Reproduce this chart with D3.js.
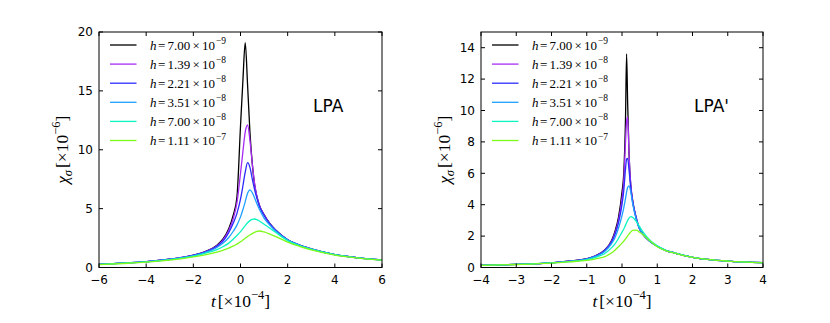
<!DOCTYPE html>
<html>
<head>
<meta charset="utf-8">
<script src="https://cdn.jsdelivr.net/npm/d3@7"></script>
<style>
  body { margin: 0; background: #fff; }
  svg { display: block; }
  .tick-label { font-family: "DejaVu Sans", sans-serif; font-size: 12px; fill: #000; }
  .math { font-family: "Liberation Serif", "DejaVu Serif", serif; fill: #000; }
</style>
</head>
<body>
<svg width="830" height="323"></svg>
<script>
// legend entries
const hMant = ["7.00", "1.39", "2.21", "3.51", "7.00", "1.11"];
const hExp = ["−9", "−8", "−8", "−8", "−8", "−7"];
const colors = ["#000000", "#a72cf5", "#2b2bff", "#1fa0ff", "#0cf5c0", "#7dfa1a"];

// LPA panel
const tLPA = [-6, -5, -4, -3, -2, -1.5, -1, -0.75, -0.5, -0.3, -0.15, 0, 0.1, 0.2, 0.3, 0.4, 0.5, 0.6, 0.7, 0.8, 1, 1.25, 1.5, 2, 2.5, 3, 4, 5, 6];
const chiLPA = [
  [0.27,0.37,0.5,0.7,1.05,1.35,1.9,2.4,3.3,4.5,6.0,12.0,15.8,19.1,15.5,11.5,8.8,7.0,6.0,5.3,4.5,3.72,3.16,2.36,1.9,1.58,1.1,0.82,0.64],
  [0.27,0.37,0.5,0.7,1.04,1.33,1.85,2.32,3.15,4.2,5.5,8.0,9.8,11.5,12.1,10.8,8.8,7.1,6.0,5.3,4.48,3.7,3.15,2.36,1.9,1.58,1.1,0.82,0.64],
  [0.27,0.37,0.5,0.7,1.03,1.31,1.8,2.22,2.95,3.8,4.6,5.8,6.9,8.1,8.9,8.5,7.5,6.6,5.85,5.2,4.42,3.68,3.14,2.35,1.9,1.57,1.1,0.82,0.64],
  [0.27,0.37,0.5,0.69,1.01,1.27,1.7,2.05,2.55,3.1,3.6,4.3,4.9,5.6,6.3,6.6,6.35,5.9,5.4,4.95,4.2,3.58,3.08,2.33,1.89,1.57,1.1,0.82,0.64],
  [0.26,0.36,0.48,0.67,0.97,1.21,1.52,1.76,2.07,2.42,2.72,3.05,3.3,3.55,3.8,3.98,4.08,4.12,4.06,3.95,3.68,3.33,2.97,2.28,1.86,1.55,1.09,0.81,0.63],
  [0.25,0.34,0.45,0.63,0.9,1.08,1.3,1.46,1.64,1.83,1.98,2.18,2.33,2.48,2.63,2.76,2.88,2.98,3.06,3.1,3.02,2.83,2.62,2.15,1.8,1.5,1.06,0.8,0.62]
];

// LPA' panel
const tLPAp = [-4, -3, -2, -1.5, -1, -0.75, -0.5, -0.3, -0.2, -0.1, 0, 0.05, 0.1, 0.13, 0.16, 0.2, 0.25, 0.3, 0.4, 0.5, 0.6, 0.8, 1, 1.25, 1.5, 2, 2.5, 3, 4];
const chiLPAp = [
  [0.14,0.2,0.3,0.4,0.56,0.75,1.1,1.7,2.3,3.2,4.8,6.0,9.5,13.6,10.5,7.2,5.2,4.3,3.2,2.45,2.1,1.65,1.35,1.08,0.92,0.65,0.5,0.41,0.31],
  [0.14,0.2,0.3,0.4,0.55,0.74,1.08,1.65,2.2,3.0,4.4,5.5,8.0,9.3,9.6,7.2,5.25,4.3,3.2,2.45,2.1,1.65,1.35,1.08,0.92,0.65,0.5,0.41,0.31],
  [0.14,0.2,0.3,0.4,0.55,0.73,1.05,1.6,2.1,2.85,4.0,4.9,6.3,6.9,6.95,6.2,5.0,4.2,3.15,2.45,2.1,1.65,1.35,1.08,0.92,0.65,0.5,0.41,0.31],
  [0.14,0.2,0.3,0.39,0.54,0.71,1.0,1.5,1.9,2.5,3.3,3.8,4.4,4.8,5.1,5.2,4.8,4.1,3.1,2.45,2.1,1.64,1.34,1.08,0.92,0.65,0.5,0.41,0.31],
  [0.14,0.2,0.29,0.38,0.5,0.65,0.88,1.25,1.5,1.85,2.25,2.45,2.7,2.85,3.0,3.15,3.24,3.2,2.95,2.6,2.25,1.72,1.38,1.1,0.93,0.65,0.5,0.41,0.31],
  [0.13,0.19,0.28,0.36,0.45,0.55,0.68,0.92,1.1,1.32,1.55,1.68,1.82,1.92,2.02,2.13,2.27,2.36,2.38,2.25,2.08,1.68,1.32,1.06,0.91,0.64,0.5,0.41,0.3]
];

const xTicksLPA = [-6, -4, -2, 0, 2, 4, 6];
const yTicksLPA = [0, 5, 10, 15, 20];
const xTicksLPAp = [-4, -3, -2, -1, 0, 1, 2, 3, 4];
const yTicksLPAp = [0, 2, 4, 6, 8, 10, 12, 14];

const svg = d3.select("svg");
const plotTop = 32, plotBottom = 267.5;

function fmt(v) { return v < 0 ? "−" + Math.abs(v) : String(v); }

function panel(opts) {
    const x = d3.scaleLinear().domain(opts.xDomain).range([opts.left, opts.right]);
    const y = d3.scaleLinear().domain(opts.yDomain).range([plotBottom, plotTop]);
    const g = svg.append("g");

    const clipId = "clip" + opts.id;
    svg.append("clipPath").attr("id", clipId)
        .append("rect")
        .attr("x", opts.left).attr("y", plotTop)
        .attr("width", opts.right - opts.left).attr("height", plotBottom - plotTop);

    const line = d3.line()
        .x(d => x(d[0]))
        .y(d => y(d[1]))
        .curve(d3.curveMonotoneX);

    const curves = g.append("g").attr("clip-path", "url(#" + clipId + ")");
    opts.series.forEach((s, i) => {
        curves.append("path")
            .attr("d", line(opts.t.map((t, j) => [t, s[j]])))
            .attr("fill", "none")
            .attr("stroke", colors[i])
            .attr("stroke-width", 1.3)
            .attr("stroke-linejoin", "round");
    });

    // ticks, inward on all four sides
    const tk = 4;
    opts.xTicks.forEach(v => {
        g.append("line").attr("x1", x(v)).attr("x2", x(v)).attr("y1", plotBottom).attr("y2", plotBottom - tk)
            .attr("stroke", "#000").attr("stroke-width", 1);
        g.append("line").attr("x1", x(v)).attr("x2", x(v)).attr("y1", plotTop).attr("y2", plotTop + tk)
            .attr("stroke", "#000").attr("stroke-width", 1);
        g.append("text").attr("class", "tick-label")
            .attr("x", x(v)).attr("y", plotBottom + 16.5)
            .attr("text-anchor", "middle")
            .text(fmt(v));
    });
    opts.yTicks.forEach(v => {
        g.append("line").attr("x1", opts.left).attr("x2", opts.left + tk).attr("y1", y(v)).attr("y2", y(v))
            .attr("stroke", "#000").attr("stroke-width", 1);
        g.append("line").attr("x1", opts.right).attr("x2", opts.right - tk).attr("y1", y(v)).attr("y2", y(v))
            .attr("stroke", "#000").attr("stroke-width", 1);
        g.append("text").attr("class", "tick-label")
            .attr("x", opts.left - 6).attr("y", y(v) + 4.3)
            .attr("text-anchor", "end")
            .text(fmt(v));
    });

    g.append("rect")
        .attr("x", opts.left).attr("y", plotTop)
        .attr("width", opts.right - opts.left).attr("height", plotBottom - plotTop)
        .attr("fill", "none").attr("stroke", "#000").attr("stroke-width", 1);

    // legend: each math piece placed on its own, like mathtext spacing
    hMant.forEach((m, i) => {
        const ly = 45 + i * 19.1;
        const bx = opts.left + 51, by = ly + 4.5;
        g.append("line")
            .attr("x1", opts.left + 11).attr("x2", opts.left + 37.5)
            .attr("y1", ly).attr("y2", ly)
            .attr("stroke", colors[i]).attr("stroke-width", 1.3);
        const piece = (dx, txt, size, dy, italic) => g.append("text").attr("class", "math")
            .attr("x", bx + dx).attr("y", by + (dy || 0))
            .attr("font-size", size)
            .attr("font-style", italic ? "italic" : null)
            .text(txt);
        piece(0, "h", 13, 0, true);
        piece(8, "=", 13);
        piece(17.5, m, 13);
        piece(42.5, "×", 13);
        piece(52, "10", 13);
        piece(66, hExp[i], 9.5, -5.5);
    });

    // panel name
    g.append("text")
        .attr("x", opts.labelX).attr("y", 112)
        .attr("font-family", "DejaVu Sans, sans-serif")
        .attr("font-size", 17)
        .text(opts.name);

    // x label
    const xl = g.append("text").attr("class", "math")
        .attr("x", (opts.left + opts.right) / 2).attr("y", 306.5)
        .attr("text-anchor", "middle")
        .attr("font-size", 17.5);
    xl.append("tspan").attr("font-style", "italic").text("t");
    xl.append("tspan").attr("dx", 2).text("[×10");
    xl.append("tspan").attr("font-size", 12.5).attr("dy", -8).text("−4");
    xl.append("tspan").attr("dy", 8).text("]");

    // y label
    const cx = opts.left - 31, cy = (plotTop + plotBottom) / 2;
    const yl = g.append("text").attr("class", "math")
        .attr("transform", `translate(${cx},${cy}) rotate(-90)`)
        .attr("text-anchor", "middle")
        .attr("font-size", 17.5);
    yl.append("tspan").attr("font-style", "italic").text("χ");
    yl.append("tspan").attr("font-style", "italic").attr("font-size", 12.5).attr("dy", 3.5).text("σ");
    yl.append("tspan").attr("dy", -3.5).attr("dx", 2).text("[×10");
    yl.append("tspan").attr("font-size", 12.5).attr("dy", -8).text("−6");
    yl.append("tspan").attr("dy", 8).text("]");
}

panel({ id: 1, left: 99, right: 382, xDomain: [-6, 6], yDomain: [0, 20],
        t: tLPA, series: chiLPA, xTicks: xTicksLPA, yTicks: yTicksLPA,
        name: "LPA", labelX: 313 });
panel({ id: 2, left: 481, right: 763, xDomain: [-4, 4], yDomain: [0, 15],
        t: tLPAp, series: chiLPAp, xTicks: xTicksLPAp, yTicks: yTicksLPAp,
        name: "LPA'", labelX: 694 });
</script>
</body>
</html>
